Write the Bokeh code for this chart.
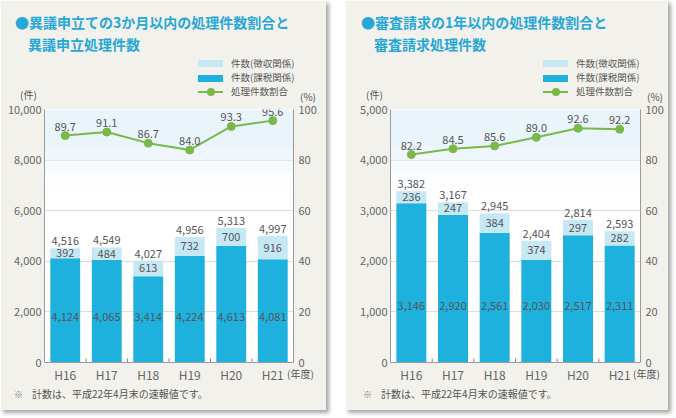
from bokeh.plotting import figure
from bokeh.models import (ColumnDataSource, Range1d, LinearAxis, NumeralTickFormatter,
                          FixedTicker, BoxAnnotation, Div)
from bokeh.layouts import row, column
from bokeh.transform import dodge
from bokeh.core.properties import value
from bokeh.embed import file_html
from bokeh.resources import INLINE

# ---------------- data ----------------
years = ["H16", "H17", "H18", "H19", "H20", "H21"]

left_tax = [4124, 4065, 3414, 4224, 4613, 4081]      # 件数(課税関係)
left_coll = [392, 484, 613, 732, 700, 916]           # 件数(徴収関係)
left_total = [4516, 4549, 4027, 4956, 5313, 4997]
left_pct = [89.7, 91.1, 86.7, 84.0, 93.3, 95.6]      # 処理件数割合

right_tax = [3146, 2920, 2561, 2030, 2517, 2311]
right_coll = [236, 247, 384, 374, 297, 282]
right_total = [3382, 3167, 2945, 2404, 2814, 2593]
right_pct = [82.2, 84.5, 85.6, 89.0, 92.6, 92.2]

left_title = ["●異議申立ての3か月以内の処理件数割合と", "異議申立処理件数"]
right_title = ["●審査請求の1年以内の処理件数割合と", "審査請求処理件数"]
legend_labels = ["件数(徴収関係)", "件数(課税関係)", "処理件数割合"]
note_text = "計数は、平成22年4月末の速報値です。"

FONT = "Noto Sans CJK JP"
DARK = "#1fb1de"
LIGHT = "#c6e8f5"
GREEN = "#7ab84a"
TITLE = "#27a7d7"
PANEL = "#f2f1ec"
TXT = "#555555"
AXIS = "#9a9a9a"
H = 410


def span(x, y, text, size, color, bold=False):
    return ('<span style="position:absolute;left:%dpx;top:%dpx;transform:translateY(-50%%);'
            'font-family:\'%s\';font-size:%spx;line-height:1;color:%s;white-space:nowrap;'
            'font-weight:%d">%s</span>' % (x, y, FONT, size, color, 700 if bold else 400, text))


def box(x, y, w, h, color, radius=0):
    return ('<div style="position:absolute;left:%dpx;top:%dpx;width:%dpx;height:%dpx;'
            'background:%s;border-radius:%dpx"></div>' % (x, y, w, h, color, radius))


def make_panel(titles, tax, coll, total, pct, ymax, ystep, dark_label_y,
               width, page_x0, frame_left_page, frame_right_page, legend_x_page,
               unit_x, pct_x, year_x, note_x):
    bl = frame_left_page - page_x0
    br = page_x0 + width - frame_right_page
    p = figure(width=width, height=H, x_range=years, y_range=Range1d(0, ymax),
               output_backend="svg", toolbar_location=None,
               min_border_left=bl, min_border_right=br,
               min_border_top=109, min_border_bottom=H - 362,
               background_fill_color="white", border_fill_color=PANEL,
               outline_line_color=None)
    p.styles = {"box-shadow": "3px 3px 4px rgba(0,0,0,0.35)"}
    p.extra_y_ranges = {"pct": Range1d(0, 100)}

    # soft tint at top of plot area
    steps = [(1.0, 0.85, 1.0), (0.85, 0.80, 0.7), (0.80, 0.75, 0.45), (0.75, 0.70, 0.2)]
    for top, bot, a in steps:
        p.add_layout(BoxAnnotation(top=ymax * top, bottom=ymax * bot, fill_color="#e9f4fb",
                                   fill_alpha=a, line_color=None, level="underlay"))

    src = ColumnDataSource(dict(
        x=years, tax=tax, coll=coll, total=total, pct=pct,
        coll_mid=[t + c / 2 for t, c in zip(tax, coll)],
        dark_y=[dark_label_y] * len(years),
        tax_txt=[f"{v:,}" for v in tax],
        coll_txt=[f"{v:,}" for v in coll],
        tot_txt=[f"{v:,}" for v in total],
        pct_txt=[f"{v:.1f}" for v in pct],
    ))

    p.vbar_stack(["tax", "coll"], x="x", width=0.72, color=[DARK, LIGHT],
                 line_color=None, source=src)

    # small boundary ticks on the x axis
    bsrc = ColumnDataSource(dict(x=years[:-1]))
    p.segment(x0=dodge("x", 0.5, range=p.x_range), x1=dodge("x", 0.5, range=p.x_range),
              y0=0, y1=ymax * 0.016, line_color="#888888", line_width=1, source=bsrc)

    p.line(x="x", y="pct", source=src, y_range_name="pct", line_color=GREEN, line_width=2)
    p.scatter(x="x", y="pct", source=src, y_range_name="pct", size=8,
              marker="circle", fill_color=GREEN, line_color=GREEN)

    common = dict(text_align="center", text_font=value(FONT), text_color=TXT,
                  text_font_size=value("11px"))
    p.text(x="x", y="total", text="tot_txt", source=src, text_baseline="bottom",
           y_offset=-3, **common)
    p.text(x="x", y="coll_mid", text="coll_txt", source=src, text_baseline="middle", **common)
    p.text(x="x", y="dark_y", text="tax_txt", source=src, text_baseline="middle", **common)
    p.text(x="x", y="pct", text="pct_txt", source=src, y_range_name="pct",
           text_baseline="middle", y_offset=-9, **common)

    # axes
    p.yaxis.ticker = FixedTicker(ticks=list(range(0, ymax + 1, ystep)))
    p.yaxis.formatter = NumeralTickFormatter(format="0,0")
    ra = LinearAxis(y_range_name="pct", ticker=FixedTicker(ticks=list(range(0, 101, 20))))
    p.add_layout(ra, "right")
    for ax in (p.yaxis[0], ra, p.xaxis[0]):
        ax.major_tick_line_color = None
        ax.minor_tick_line_color = None
        ax.major_tick_out = 0
        ax.major_tick_in = 0
        ax.minor_tick_out = 0
        ax.axis_line_color = AXIS
        ax.major_label_text_font = FONT
        ax.major_label_text_font_size = "11px"
        ax.major_label_text_color = "#666666"
    p.yaxis[0].major_label_standoff = 3
    ra.major_label_standoff = 5
    p.xaxis.major_label_text_font_size = "12px"
    p.xaxis.major_label_standoff = 3
    p.ygrid.grid_line_color = "#dcdcdc"
    p.xgrid.grid_line_color = None

    # HTML overlay for titles, legend and notes (real text)
    X = lambda px: px - page_x0
    parts = [
        span(X(frame_left_page - 29), 22, titles[0], 14, TITLE, True),
        span(X(frame_left_page - 16), 44, titles[1], 14, TITLE, True),
        box(X(legend_x_page), 60, 25, 7, LIGHT),
        box(X(legend_x_page), 75, 25, 7, DARK),
        box(X(legend_x_page), 91, 25, 2, GREEN),
        box(X(legend_x_page) + 9, 88, 8, 8, GREEN, 4),
        span(X(legend_x_page) + 33, 64, legend_labels[0], 9.5, TXT),
        span(X(legend_x_page) + 33, 78, legend_labels[1], 9.5, TXT),
        span(X(legend_x_page) + 33, 92, legend_labels[2], 9.5, TXT),
        span(X(unit_x), 95, "(件)", 10, TXT),
        span(X(pct_x), 97, "(%)", 10, TXT),
        span(X(year_x), 374, "(年度)", 10, TXT),
        span(X(note_x), 394, "※", 9, "#777777"),
        span(X(note_x + 18), 394, note_text, 10, TXT),
    ]
    html = ('<div style="position:relative;width:%dpx;height:%dpx;">%s</div>'
            % (width, H, "".join(parts)))
    d = Div(text=html, width=width, height=H, margin=(-H, 0, 0, 0))
    return column(p, d)


p1 = make_panel(left_title, left_tax, left_coll, left_total, left_pct, 10000, 2000, 1790,
                width=326, page_x0=0, frame_left_page=44, frame_right_page=293,
                legend_x_page=198, unit_x=20, pct_x=300, year_x=287, note_x=14)
p2 = make_panel(right_title, right_tax, right_coll, right_total, right_pct, 5000, 1000, 1126,
                width=323, page_x0=345, frame_left_page=390, frame_right_page=640,
                legend_x_page=543, unit_x=366, pct_x=647, year_x=633, note_x=363)

layout = row(p1, p2, spacing=19)

open("out.html", "w").write(file_html(layout, INLINE))
